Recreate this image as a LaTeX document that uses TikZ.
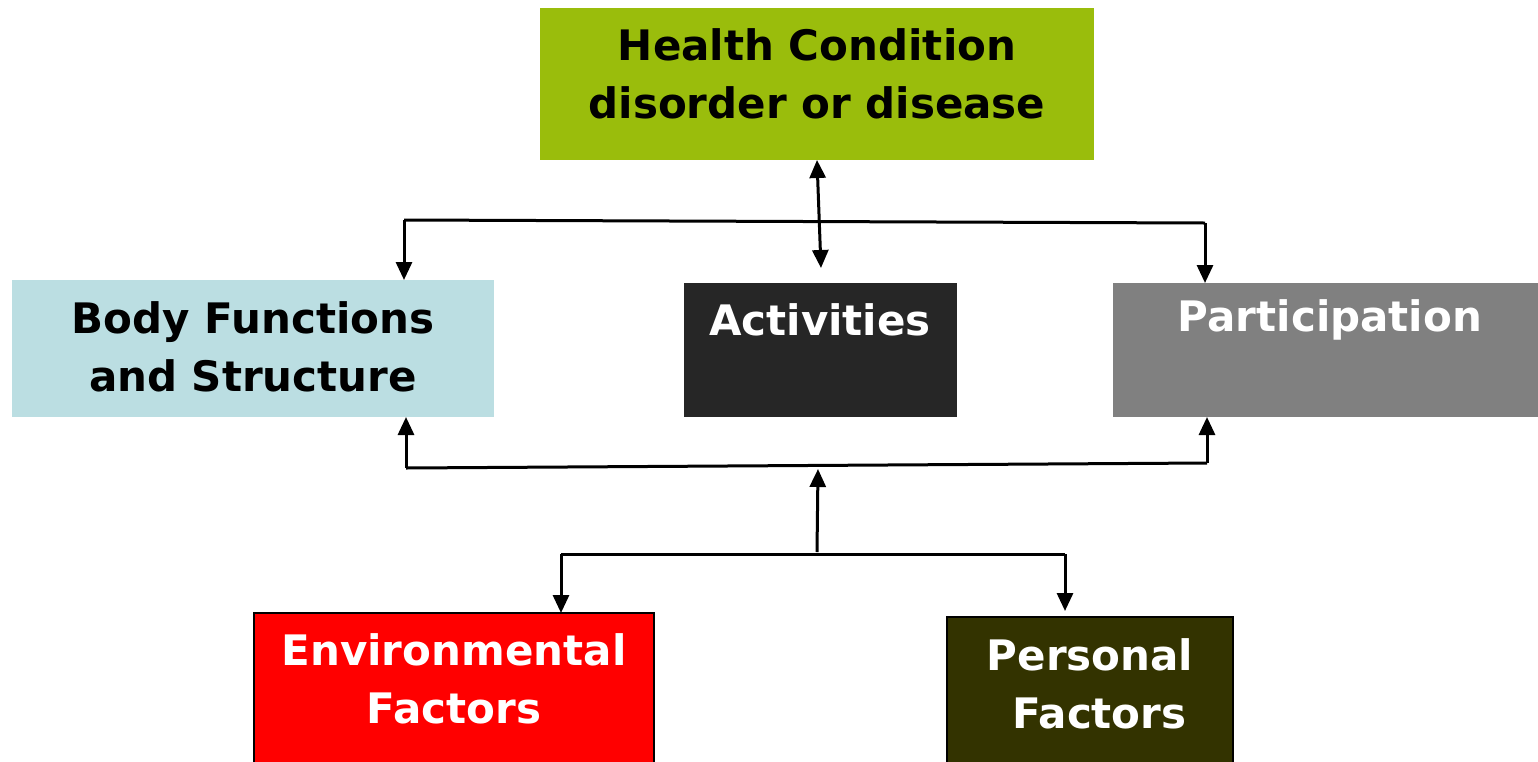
\documentclass[tikz,border=0pt]{standalone}
\usepackage{fontspec}
\setmainfont{DejaVu Sans}
\usetikzlibrary{arrows.meta}
\definecolor{hcgreen}{RGB}{154,189,12}
\definecolor{bodyblue}{RGB}{187,222,226}
\definecolor{actdark}{RGB}{38,38,38}
\definecolor{partgray}{RGB}{128,128,128}
\definecolor{persolive}{RGB}{51,51,0}
\tikzset{
  box/.style={rectangle, inner sep=0pt, outer sep=0pt},
  lbl/.style={align=center, inner sep=0pt, font=\bfseries\fontsize{21}{29}\selectfont},
  conn/.style={line width=1.5pt, black},
  arr/.style={conn, -{Triangle[width=8pt,length=9pt]}},
  dbl/.style={conn, {Triangle[width=8pt,length=9pt]}-{Triangle[width=8pt,length=9pt]}}
}
\begin{document}
\begin{tikzpicture}[x=0.5pt,y=-0.5pt]
\useasboundingbox (0,0) rectangle (1538,761);
% boxes
\node[box, fill=hcgreen, minimum width=277pt, minimum height=76pt, anchor=north west] (health) at (540,8) {};
\node[box, fill=bodyblue, minimum width=241pt, minimum height=68.5pt, anchor=north west] (body) at (12,280) {};
\node[box, fill=actdark, minimum width=136.5pt, minimum height=67pt, anchor=north west] (act) at (684,283) {};
\node[box, fill=partgray, minimum width=212.5pt, minimum height=67pt, anchor=north west] (part) at (1113,283) {};
\node[box, fill=red, draw=black, line width=0.8pt, minimum width=200pt, minimum height=80pt, anchor=north west] (env) at (254,613) {};
\node[box, fill=persolive, draw=black, line width=0.8pt, minimum width=143pt, minimum height=78pt, anchor=north west] (pers) at (947,617) {};
% labels
\node[lbl, text=black] (thealth) at (817,74) {Health Condition\\disorder or disease};
\node[lbl, text=black] (tbody) at (253,347) {Body Functions\\and Structure};
\node[lbl, text=white] (tact) at (820,320) {Activities};
\node[lbl, text=white] (tpart) at (1330,320) {Participation};
\node[lbl, text=white] (tenv) at (454,679) {Environmental\\Factors};
\node[lbl, text=white] (tpers) at (1090,684) {Personal\\\hspace*{0.45em}Factors};
% junction coordinates
\coordinate (tl) at (404,220);
\coordinate (tr) at (1205,223);
\coordinate (acttip) at (821,268);
\coordinate (ml) at (406,468);
\coordinate (mr) at (1207,463);
\coordinate (mtip) at (818,469);
\coordinate (bstart) at (817,552);
\coordinate (bl) at (561,554);
\coordinate (br) at (1065,554);
\coordinate (perstip) at (1065,611);
% connectors
\draw[dbl] (health.south) -- (acttip);
\draw[conn] (tl) -- (tr);
\draw[arr] (tl) -- (tl |- body.north);
\draw[arr] (tr) -- (tr |- part.north);
\draw[conn] (ml) -- (mr);
\draw[arr] (ml) -- (ml |- body.south);
\draw[arr] (mr) -- (mr |- part.south);
\draw[arr] (bstart) -- (mtip);
\draw[conn] (bl) -- (br);
\draw[arr] (bl) -- (bl |- env.north);
\draw[arr] (br) -- (perstip);
\end{tikzpicture}
\end{document}
